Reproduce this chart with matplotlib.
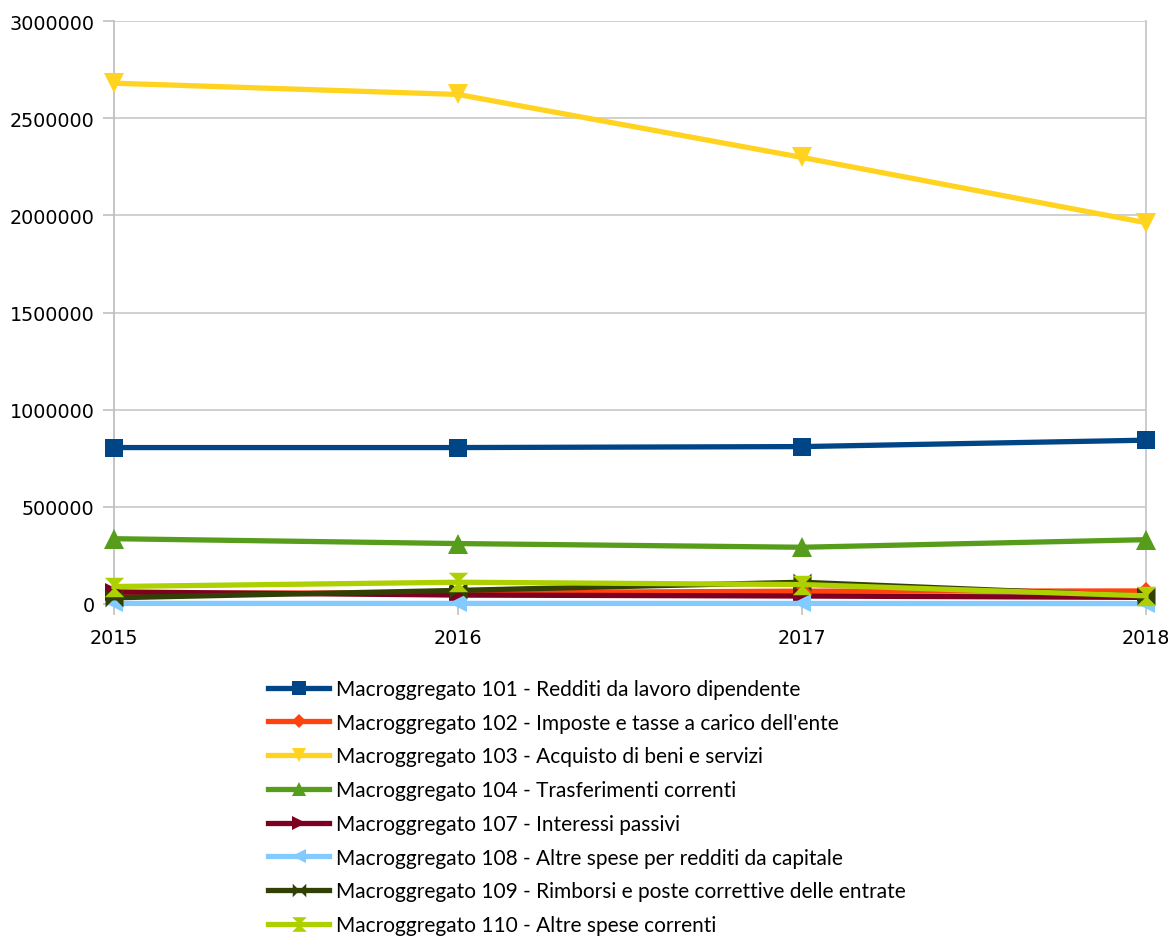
import numpy as np
import matplotlib
matplotlib.use("Agg")
import matplotlib.pyplot as plt
from matplotlib.path import Path

years = [2015, 2016, 2017, 2018]

labels = [
    "Macroggregato 101 - Redditi da lavoro dipendente",
    "Macroggregato 102 - Imposte e tasse a carico dell'ente",
    "Macroggregato 103 - Acquisto di beni e servizi",
    "Macroggregato 104 - Trasferimenti correnti",
    "Macroggregato 107 - Interessi passivi",
    "Macroggregato 108 - Altre spese per redditi da capitale",
    "Macroggregato 109 - Rimborsi e poste correttive delle entrate",
    "Macroggregato 110 - Altre spese correnti",
]

m101 = [805000, 805000, 810000, 843000]
m102 = [55000, 58000, 66000, 67000]
m103 = [2680000, 2622000, 2298000, 1962000]
m104 = [336000, 311000, 292000, 331000]
m107 = [62000, 46000, 41000, 34000]
m108 = [3000, 3000, 3000, 2000]
m109 = [32000, 70000, 112000, 40000]
m110 = [90000, 112000, 100000, 42000]

colori = ["#004586", "#ff420e", "#ffd320", "#579d1c",
          "#7e0021", "#83caff", "#314004", "#aecf00"]

# marker custom (clessidra e farfalla)
clessidra = Path([(-1, 1), (1, 1), (-1, -1), (1, -1), (-1, 1)],
                 [Path.MOVETO, Path.LINETO, Path.LINETO, Path.LINETO, Path.CLOSEPOLY])
farfalla = Path([(-1, 1), (1, -1), (1, 1), (-1, -1), (-1, 1)],
                [Path.MOVETO, Path.LINETO, Path.LINETO, Path.LINETO, Path.CLOSEPOLY])
markers = ["s", "D", "v", "^", ">", "<", farfalla, clessidra]
msizes = [13, 9, 14, 14, 13, 13, 13, 14]

serie = [m101, m102, m103, m104, m107, m108, m109, m110]

fig = plt.figure(figsize=(11.68, 9.37), dpi=100)
ax = fig.add_axes([114/1168, 1-605/937, (1146-114)/1168, (605-22)/937])

for i, s in enumerate(serie):
    ax.plot(years, s, color=colori[i], lw=3.8, marker=markers[i],
            markersize=msizes[i], markeredgewidth=0, label=labels[i],
            clip_on=False, zorder=3+i, solid_joinstyle="round")

ax.set_xlim(2015, 2018)
ax.set_ylim(0, 3000000)
ax.set_yticks(np.arange(0, 3000001, 500000))
ax.set_yticklabels([str(v) for v in range(0, 3000001, 500000)])
ax.set_xticks(years)
ax.yaxis.grid(True, color="#c8c8c8", lw=1.2)
ax.set_axisbelow(True)
for sp in ["top", "bottom"]:
    ax.spines[sp].set_visible(False)
ax.spines["left"].set_color("#c0c0c0")
ax.spines["right"].set_color("#c8c8c8")
ax.spines["left"].set_linewidth(1.3)
ax.spines["right"].set_linewidth(1.3)
ax.tick_params(axis="both", length=8, width=1.2, color="#c0c0c0",
               labelsize=13.8, labelcolor="black", direction="out")
ax.tick_params(axis="y", pad=6)
ax.tick_params(axis="x", pad=9)

leg = fig.legend(loc="upper left", bbox_to_anchor=(268/1168, 1-680/937),
                 frameon=False, prop={"family": "Lato", "size": 15},
                 handlelength=2.95, handletextpad=0.33, labelspacing=0.66,
                 markerscale=0.75, borderaxespad=0, borderpad=0)

fig.savefig("out.png", dpi=100)
